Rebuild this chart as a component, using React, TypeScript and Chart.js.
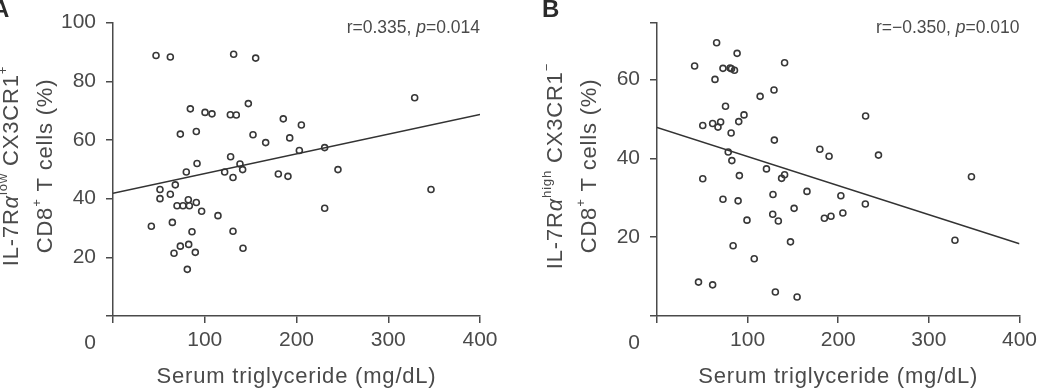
import React, { useEffect, useRef } from 'react';
import { Chart, registerables } from 'chart.js';

Chart.register(...registerables);

const FONT = '"Liberation Sans", Arial, Helvetica, sans-serif';
const TEXT = '#4a4a4a';
const AXIS = '#4a4a4a';

// ---- axis ticks ----
const X_TICKS = [0, 100, 200, 300, 400];
const X_TICK_LABELS = ['', '100', '200', '300', '400'];
const A_Y_TICKS = [0, 20, 40, 60, 80, 100];
const A_Y_TICK_LABELS = ['', '20', '40', '60', '80', '100'];
const B_Y_TICKS = [0, 20, 40, 60, 74.4];
const B_Y_TICK_LABELS = ['', '20', '40', '60', ''];
const A_Y_MAX = 100;
const B_Y_MAX = 74.4;
const X_MAX = 400;

// ---- panel A data (serum triglyceride vs IL-7Ra low CX3CR1+ %) ----
const A_X = [46.9, 62.5, 131.5, 155.5, 328.8, 147.5, 84.3, 100.3, 107.9, 127.9, 134.4, 185.6, 205.3, 73.4, 90.8, 152.6, 192.6, 166.4, 203.1, 230.7, 128.2, 91.6, 138.4, 141.3, 121.7, 130.8, 79.9, 180.2, 190.7, 245.2, 67.9, 51.2, 62.5, 51.2, 346.6, 82.1, 69.8, 76.3, 83.2, 90.8, 96.6, 114.4, 230.7, 64.7, 41.8, 86.1, 130.8, 73.4, 82.5, 66.5, 89.7, 141.7, 81.0];
const A_Y = [88.8, 88.3, 89.2, 87.9, 74.4, 72.4, 70.6, 69.4, 68.9, 68.6, 68.5, 67.2, 65.1, 62.0, 62.9, 61.8, 60.7, 59.1, 56.4, 57.4, 54.3, 52.0, 51.8, 49.9, 49.1, 47.2, 49.1, 48.4, 47.6, 49.9, 44.7, 43.1, 41.5, 40.0, 43.1, 39.6, 37.6, 37.6, 37.6, 38.7, 35.7, 34.2, 36.7, 31.9, 30.6, 28.7, 28.9, 23.8, 24.4, 21.4, 21.7, 23.1, 15.9];
const A_FIT_X = [0, 400];
const A_FIT_Y = [41.8, 68.7];

// ---- panel B data (serum triglyceride vs IL-7Ra high CX3CR1- %) ----
const B_X = [65.8, 88.4, 41.5, 140.8, 72.8, 80.7, 82.2, 85.5, 64.0, 129.1, 113.8, 75.6, 96.0, 230.2, 50.5, 61.4, 67.3, 70.2, 90.2, 81.8, 129.5, 179.7, 189.9, 244.4, 78.6, 82.6, 120.8, 50.5, 90.9, 137.5, 140.8, 347.0, 165.5, 128.0, 202.9, 72.8, 89.5, 229.9, 151.3, 127.7, 184.7, 192.0, 205.1, 99.3, 133.9, 147.3, 328.8, 84.0, 107.3, 45.8, 61.4, 130.6, 154.6];
const B_Y = [69.3, 66.6, 63.4, 64.2, 62.8, 62.9, 62.7, 62.3, 60.0, 57.3, 55.7, 53.2, 51.0, 50.7, 48.3, 48.8, 47.9, 49.2, 49.3, 46.4, 44.6, 42.3, 40.5, 40.8, 41.6, 39.4, 37.3, 34.8, 35.6, 34.9, 35.8, 35.3, 31.6, 30.8, 30.5, 29.6, 29.2, 28.4, 27.3, 25.8, 24.8, 25.3, 26.1, 24.3, 24.1, 18.8, 19.2, 17.8, 14.5, 8.6, 7.9, 6.1, 4.8];
const B_FIT_X = [0, 400];
const B_FIT_Y = [47.8, 18.3];

type Seg = { t: string; sup?: boolean; it?: boolean };

const A_TITLE_1: Seg[] = [{ t: 'IL-7R' }, { t: 'α', it: true }, { t: 'low', sup: true }, { t: ' CX3CR1' }, { t: '+', sup: true }];
const B_TITLE_1: Seg[] = [{ t: 'IL-7R' }, { t: 'α', it: true }, { t: 'high', sup: true }, { t: ' CX3CR1' }, { t: '−', sup: true }];
const TITLE_2: Seg[] = [{ t: 'CD8' }, { t: '+', sup: true }, { t: ' T cells (%)' }];
const A_STAT: Seg[] = [{ t: 'r=0.335, ' }, { t: 'p', it: true }, { t: '=0.014' }];
const B_STAT: Seg[] = [{ t: 'r=−0.350, ' }, { t: 'p', it: true }, { t: '=0.010' }];
const X_TITLE = 'Serum triglyceride (mg/dL)';

const W = 521;
const H = 388;
const PLOT_TOP = 18.5;
const PLOT_BOTTOM = 316;

function segFont(s: Seg, size: number) {
  const sz = s.sup ? size * 0.6 : size;
  return `${s.it ? 'italic ' : ''}${sz}px ${FONT}`;
}

function drawRich(ctx: CanvasRenderingContext2D, segs: Seg[], x: number, y: number, size: number, align: 'left' | 'center' | 'right', rotate: boolean, spacing: number, color: string) {
  ctx.save();
  (ctx as any).letterSpacing = `${spacing}px`;
  ctx.translate(x, y);
  if (rotate) ctx.rotate(-Math.PI / 2);
  let w = 0;
  for (const s of segs) {
    ctx.font = segFont(s, size);
    w += ctx.measureText(s.t).width;
  }
  let cx = align === 'center' ? -w / 2 : align === 'right' ? -w : 0;
  ctx.textAlign = 'left';
  ctx.textBaseline = 'alphabetic';
  ctx.fillStyle = color;
  for (const s of segs) {
    ctx.font = segFont(s, size);
    ctx.fillText(s.t, cx, s.sup ? -size * 0.52 : 0);
    cx += ctx.measureText(s.t).width;
  }
  ctx.restore();
}

type Panel = {
  xs: number[]; ys: number[]; fitX: number[]; fitY: number[];
  yTicks: number[]; yLabels: string[]; yMax: number;
  letter: string; letterX: number; title1: Seg[]; stat: Seg[];
  plotLeft: number; plotRight: number;
};

function makeTextPlugin(p: Panel) {
  return {
    id: 'panelText' + p.letter,
    afterDraw(chart: any) {
      const ctx: CanvasRenderingContext2D = chart.ctx;
      const a = chart.chartArea;
      const midY = 166;
      // y titles
      drawRich(ctx, p.title1, a.left - 95, midY, 22, 'center', true, 0.8, TEXT);
      drawRich(ctx, TITLE_2, a.left - 61, midY, 22, 'center', true, 0.8, TEXT);
      // x title
      drawRich(ctx, [{ t: X_TITLE }], (a.left + a.right) / 2, 383, 22, 'center', false, 0.8, TEXT);
      // shared origin label
      drawRich(ctx, [{ t: '0' }], a.left - 17, 348.5, 21, 'right', false, 0, TEXT);
      // statistics
      drawRich(ctx, p.stat, a.right, 33, 17.5, 'right', false, 0, TEXT);
      // panel letter
      ctx.save();
      ctx.font = `bold 24px ${FONT}`;
      ctx.fillStyle = '#2a2a2a';
      ctx.textAlign = 'left';
      ctx.textBaseline = 'alphabetic';
      ctx.fillText(p.letter, p.letterX, 17);
      ctx.restore();
    },
  };
}

function makeConfig(p: Panel): any {
  return {
    type: 'scatter',
    data: {
      datasets: [
        {
          type: 'line',
          data: p.fitX.map((x, i) => ({ x, y: p.fitY[i] })),
          borderColor: '#333333',
          borderWidth: 1.5,
          pointRadius: 0,
          fill: false,
          showLine: true,
          tension: 0,
        },
        {
          data: p.xs.map((x, i) => ({ x, y: p.ys[i] })),
          pointRadius: 3,
          pointHoverRadius: 3,
          borderWidth: 1.6,
          pointBorderColor: '#383838',
          pointBackgroundColor: 'rgba(255,255,255,0)',
          borderColor: '#383838',
          backgroundColor: 'rgba(255,255,255,0)',
          showLine: false,
        },
      ],
    },
    options: {
      responsive: false,
      animation: false,
      events: [],
      layout: { padding: { left: 0, top: PLOT_TOP, right: W - p.plotRight, bottom: 0 } },
      plugins: { legend: { display: false }, tooltip: { enabled: false }, title: { display: false } },
      scales: {
        x: {
          type: 'linear',
          min: 0,
          max: X_MAX,
          afterBuildTicks: (s: any) => { s.ticks = X_TICKS.map((v) => ({ value: v })); },
          afterFit: (s: any) => { s.height = H - PLOT_BOTTOM; },
          ticks: {
            callback: (_v: any, i: number) => X_TICK_LABELS[i],
            font: { size: 21, family: FONT },
            color: TEXT,
            padding: 5,
            maxRotation: 0,
            minRotation: 0,
            autoSkip: false,
          },
          grid: { drawOnChartArea: false, drawTicks: true, tickLength: 7, tickColor: AXIS, tickWidth: 1.5, lineWidth: 1.5, color: AXIS },
          border: { display: true, color: AXIS, width: 1.5 },
        },
        y: {
          type: 'linear',
          min: 0,
          max: p.yMax,
          afterBuildTicks: (s: any) => { s.ticks = p.yTicks.map((v) => ({ value: v })); },
          afterFit: (s: any) => { s.width = p.plotLeft; },
          ticks: {
            callback: (_v: any, i: number) => p.yLabels[i],
            font: { size: 21, family: FONT },
            color: TEXT,
            padding: 10,
            autoSkip: false,
          },
          grid: { drawOnChartArea: false, drawTicks: true, tickLength: 7, tickColor: AXIS, tickWidth: 1.5, lineWidth: 1.5, color: AXIS },
          border: { display: true, color: AXIS, width: 1.5 },
        },
      },
    },
    plugins: [makeTextPlugin(p)],
  };
}

const PANEL_A: Panel = {
  xs: A_X, ys: A_Y, fitX: A_FIT_X, fitY: A_FIT_Y,
  yTicks: A_Y_TICKS, yLabels: A_Y_TICK_LABELS, yMax: A_Y_MAX,
  letter: 'A', letterX: -8, title1: A_TITLE_1, stat: A_STAT,
  plotLeft: 113, plotRight: 480,
};

const PANEL_B: Panel = {
  xs: B_X, ys: B_Y, fitX: B_FIT_X, fitY: B_FIT_Y,
  yTicks: B_Y_TICKS, yLabels: B_Y_TICK_LABELS, yMax: B_Y_MAX,
  letter: 'B', letterX: 21, title1: B_TITLE_1, stat: B_STAT,
  plotLeft: 136, plotRight: 502,
};

function ChartPanel({ panel, left }: { panel: Panel; left: number }) {
  const ref = useRef<HTMLCanvasElement>(null);
  useEffect(() => {
    const chart = new Chart(ref.current as HTMLCanvasElement, makeConfig(panel));
    return () => chart.destroy();
  }, [panel]);
  return (
    <canvas
      ref={ref}
      width={W}
      height={H}
      style={{ position: 'absolute', left, top: 0, width: W, height: H }}
    />
  );
}

export default function App() {
  return (
    <div style={{ position: 'fixed', left: 0, top: 0, width: 1042, height: 388, background: '#ffffff', overflow: 'hidden' }}>
      <ChartPanel panel={PANEL_A} left={0} />
      <ChartPanel panel={PANEL_B} left={521} />
    </div>
  );
}
